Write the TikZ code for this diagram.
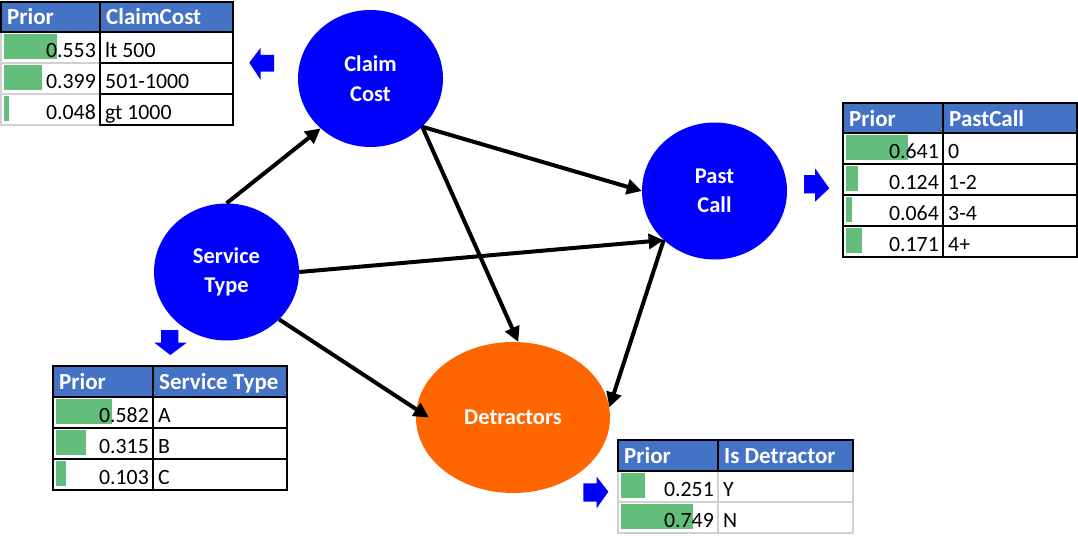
\documentclass[tikz,border=0pt]{standalone}
\usepackage{fontspec}
\setmainfont{Carlito}
\usetikzlibrary{shapes.geometric,arrows.meta}
\definecolor{hdrblue}{HTML}{4472C4}
\definecolor{nodeblue}{HTML}{0000FF}
\definecolor{detorange}{HTML}{FF6600}
\definecolor{bargreen}{HTML}{63BE7B}
\definecolor{gridgray}{HTML}{D0D0D0}
\begin{document}
\begin{tikzpicture}[x=1pt,y=-1pt,
  bnode/.style={ellipse, fill=nodeblue, text=white, inner sep=0pt, minimum width=145pt, minimum height=137pt, align=center, font=\fontsize{22.5}{29.5}\selectfont\bfseries},
  onode/.style={bnode, fill=detorange, minimum width=194pt, minimum height=151pt},
  link/.style={line width=4pt, -{Triangle[length=15pt,width=15pt]}},
  blockarrow/.style={fill=nodeblue},
  blackline/.style={draw=black, line width=2pt},
  gridline/.style={draw=gridgray, line width=1.5pt},
  hdrtxt/.style={anchor=base west, inner sep=0pt, text=white, font=\fontsize{23}{26}\selectfont\bfseries},
  numtxt/.style={anchor=base east, inner sep=0pt, font=\fontsize{21.8}{25}\selectfont},
  labtxt/.style={anchor=base west, inner sep=0pt, font=\fontsize{21.8}{25}\selectfont}]
\useasboundingbox (0,0) rectangle (1078,535);
\fill[white] (0,0) rectangle (1078,535);

% ---------- nodes ----------
\node[bnode] (cc) at (370.5,78.5) {Claim\\Cost};
\node[bnode] (st) at (226.5,272) {Service\\Type};
\node[bnode] (pc) at (714.5,191) {Past\\Call};
\node[onode] (dt) at (513,417.5) {Detractors};

% ---------- links ----------
\draw[link] (st.90) -- (cc.225);
\draw[link] (cc.317) -- (pc.180);
\draw[link] (cc.317) -- (dt.86);
\draw[link] (st.0) -- (pc.224);
\draw[link] (st.318) -- ([xshift=13pt]dt.west);
\draw[link] (pc.224) -- (dt.6);

% ---------- block arrows ----------
\fill[blockarrow] (249.3,62.7) -- (260.7,47.7) -- (260.7,55) -- (274,55) -- (274,71.7) -- (260.7,71.7) -- (260.7,80) -- cycle;
\fill[blockarrow] (829.3,188.3) -- (815,168.3) -- (815,175) -- (804,175) -- (804,193.3) -- (815,193.3) -- (815,201.7) -- cycle;
\fill[blockarrow] (170.3,355) -- (154.3,342.7) -- (161,342.7) -- (161,330) -- (178.3,330) -- (178.3,342.7) -- (186.7,342.7) -- cycle;
\fill[blockarrow] (608.3,491.7) -- (596.7,476.7) -- (596.7,483.3) -- (583.3,483.3) -- (583.3,501.7) -- (596.7,501.7) -- (596.7,508.3) -- cycle;

% ---------- ClaimCost table ----------
\fill[hdrblue] (1,2) rectangle (233,32);
\foreach \v/\l [count=\i] in {0.553/lt 500,0.399/501-1000,0.048/gt 1000}{
  \pgfmathsetmacro\rt{32+(\i-1)*31}
  \fill[bargreen] (4,\rt+2) rectangle ({4+\v*96},\rt+27);
  \draw[gridline] (1,\rt) rectangle (100,\rt+31);
  \draw[blackline] (100,\rt) rectangle (233,\rt+31);
  \node[numtxt] (ccv\i) at (96,\rt+25.5) {\v};
  \node[labtxt] (ccl\i) at (105,\rt+25.5) {\l};
}
\draw[blackline] (1,2) rectangle (233,32);
\draw[blackline] (100,2) -- (100,32);
\node[hdrtxt] (cchp) at (7,25) {Prior};
\node[hdrtxt] (cchn) at (106,25) {ClaimCost};

% ---------- PastCall table ----------
\fill[hdrblue] (843,103) rectangle (1077,133);
\foreach \v/\l [count=\i] in {0.641/0,0.124/1-2,0.064/3-4,0.171/4+}{
  \pgfmathsetmacro\rt{133+(\i-1)*31}
  \fill[bargreen] (846,\rt+2) rectangle ({846+\v*96},\rt+27);
  \draw[blackline] (843,\rt) rectangle (943,\rt+31);
  \draw[blackline] (943,\rt) rectangle (1077,\rt+31);
  \node[numtxt] (pcv\i) at (939,\rt+25.5) {\v};
  \node[labtxt] (pcl\i) at (948,\rt+25.5) {\l};
}
\draw[blackline] (843,103) rectangle (1077,133);
\draw[blackline] (943,103) -- (943,133);
\node[hdrtxt] (pchp) at (849,126) {Prior};
\node[hdrtxt] (pchn) at (949,126) {PastCall};

% ---------- Service Type table ----------
\fill[hdrblue] (53,366) rectangle (287,397);
\foreach \v/\l [count=\i] in {0.582/A,0.315/B,0.103/C}{
  \pgfmathsetmacro\rt{397+(\i-1)*31}
  \fill[bargreen] (56,\rt+2) rectangle ({56+\v*96},\rt+27);
  \draw[blackline] (53,\rt) rectangle (153,\rt+31);
  \draw[blackline] (153,\rt) rectangle (287,\rt+31);
  \node[numtxt] (stv\i) at (149,\rt+25.5) {\v};
  \node[labtxt] (stl\i) at (158,\rt+25.5) {\l};
}
\draw[blackline] (53,366) rectangle (287,397);
\draw[blackline] (153,366) -- (153,397);
\node[hdrtxt] (sthp) at (59,389) {Prior};
\node[hdrtxt] (sthn) at (159,389) {Service Type};

% ---------- Is Detractor table ----------
\fill[hdrblue] (618,440) rectangle (853,471);
\foreach \v/\l [count=\i] in {0.251/Y,0.749/N}{
  \pgfmathsetmacro\rt{471+(\i-1)*31}
  \fill[bargreen] (621,\rt+2) rectangle ({621+\v*96},\rt+27);
  \draw[gridline] (618,\rt) rectangle (718,\rt+31);
  \draw[gridline] (718,\rt) rectangle (853,\rt+31);
  \node[numtxt] (dtv\i) at (714,\rt+25.5) {\v};
  \node[labtxt] (dtl\i) at (723,\rt+25.5) {\l};
}
\draw[blackline] (618,440) rectangle (853,471);
\draw[blackline] (718,440) -- (718,471);
\node[hdrtxt] (dthp) at (624,463) {Prior};
\node[hdrtxt] (dthn) at (724,463) {Is Detractor};
\end{tikzpicture}
\end{document}
